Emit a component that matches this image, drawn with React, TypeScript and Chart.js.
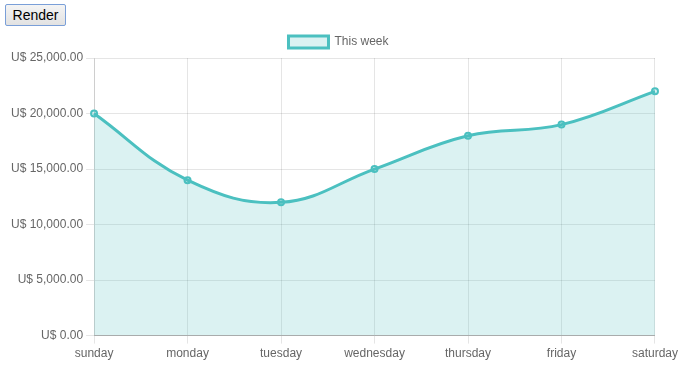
import React, { useEffect, useRef } from "react";
import { Chart, registerables } from "chart.js";

Chart.register(...registerables);

const categories = ["sunday", "monday", "tuesday", "wednesday", "thursday", "friday", "saturday"];
const thisWeek = [20000, 14000, 12000, 15000, 18000, 19000, 22000];
const seriesLabel = "This week";

const fmt = (v: number) =>
  "U$ " + v.toLocaleString("en-US", { minimumFractionDigits: 2, maximumFractionDigits: 2 });

export default function App() {
  const ref = useRef<HTMLCanvasElement | null>(null);
  useEffect(() => {
    document.body.style.margin = "0";
    document.body.style.overflow = "hidden";
    Chart.defaults.font.family = "Arial, 'Liberation Sans', Helvetica, sans-serif";
    Chart.defaults.font.size = 12;
    Chart.defaults.color = "#666";
    const chart = new Chart(ref.current!, {
      type: "line",
      data: {
        labels: categories,
        datasets: [
          {
            label: seriesLabel,
            data: thisWeek,
            borderColor: "rgb(75,192,192)",
            backgroundColor: "rgba(75,192,192,0.2)",
            borderWidth: 3,
            fill: true,
            tension: 0.4,
            pointRadius: 3,
            pointBorderWidth: 2,
            pointBackgroundColor: "rgba(75,192,192,0.2)",
            pointBorderColor: "rgb(75,192,192)",
          },
        ],
      },
      options: {
        animation: false,
        responsive: true,
        maintainAspectRatio: false,
        plugins: {
          legend: { display: true, labels: { boxWidth: 40 } },
          tooltip: { enabled: false },
        },
        scales: {
          x: {
            grid: { color: "rgba(0,0,0,0.1)" },
            border: { color: "rgba(0,0,0,0.25)" },
          },
          y: {
            min: 0,
            max: 25000,
            ticks: { stepSize: 5000, callback: (v: any) => fmt(Number(v)) },
            grid: { color: "rgba(0,0,0,0.1)" },
            border: { color: "rgba(0,0,0,0.1)" },
            afterFit: (scale: any) => {
              scale.width += 12;
            },
          },
        },
      },
    });
    return () => chart.destroy();
  }, []);
  return (
    <div style={{ padding: "4px 0 0 5px" }}>
      <button
        style={{
          display: "block",
          boxSizing: "border-box",
          width: 61,
          height: 22,
          padding: "1px 6px",
          fontFamily: "Arial, sans-serif",
          fontSize: "14px",
          color: "#000",
          border: "1px solid #7a9fd8",
          borderRadius: 2,
          background: "linear-gradient(#f4f4f4, #e2e2e2)",
        }}
      >
        Render
      </button>
      <div style={{ position: "relative", width: 685, height: 338, marginLeft: -9, marginTop: 0 }}>
        <canvas ref={ref} />
      </div>
    </div>
  );
}
